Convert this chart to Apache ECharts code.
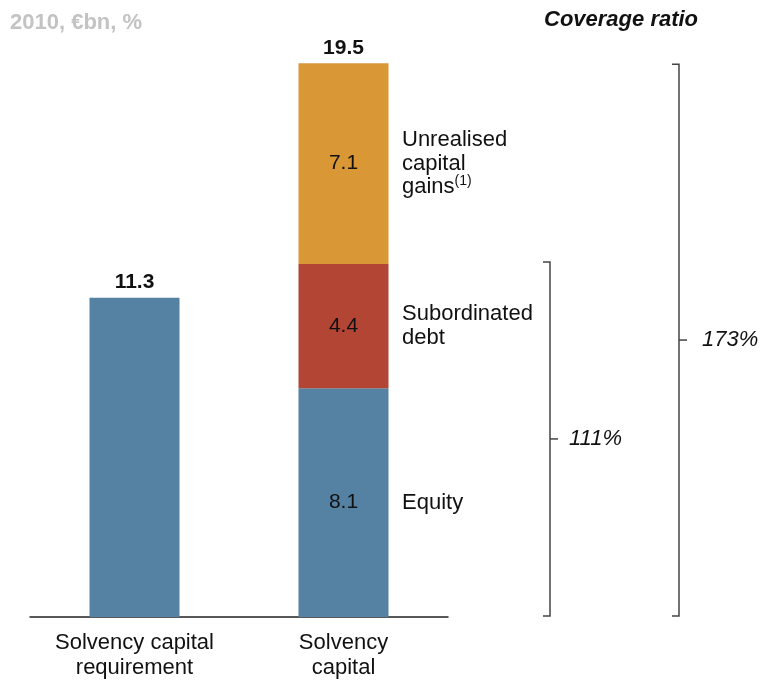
<!DOCTYPE html>
<html>
<head>
<meta charset="utf-8">
<script src="https://cdn.jsdelivr.net/npm/echarts@6/dist/echarts.min.js"></script>
<style>
html,body{margin:0;padding:0;background:#fff;}
#chart{width:761px;height:680px;}
</style>
</head>
<body>
<div id="chart"></div>
<script>
const categories = ['Solvency capital\nrequirement', 'Solvency\ncapital'];
const requirement = [11.3, '-'];
const equity = ['-', 8.1];
const subDebt = ['-', 4.4];
const unrealised = ['-', 7.1];
const stackTotals = [11.3, 19.5];
const segmentLabels = ['Equity', 'Subordinated\ndebt', 'Unrealised\ncapital\ngains{sup|(1)}'];
const coverageLabels = ['111%', '173%'];

const FONT = 'Liberation Sans, Arial, sans-serif';
const BLUE = '#5581A3', RED = '#B24534', ORANGE = '#DA9735';

const chart = echarts.init(document.getElementById('chart'));
const inLabel = {show: true, position: 'inside', color: '#111', fontSize: 21, fontFamily: FONT,
  formatter: p => p.value.toFixed(1)};

chart.setOption({
  animation: false,
  textStyle: {fontFamily: FONT},
  grid: {left: 30, right: 313, top: 52, bottom: 63},
  xAxis: {
    type: 'category', data: categories,
    axisLine: {lineStyle: {color: '#222', width: 1.5}},
    axisTick: {show: false},
    axisLabel: {color: '#111', fontSize: 22, lineHeight: 25, margin: 13, fontFamily: FONT}
  },
  yAxis: {type: 'value', min: 0, max: 20, show: false, splitLine: {show: false}},
  series: [
    {type: 'bar', name: 'Requirement', stack: 't', barWidth: 90, data: requirement,
      itemStyle: {color: BLUE},
      label: {show: true, position: 'top', distance: 5, color: '#111', fontSize: 21, fontWeight: 'bold',
        fontFamily: FONT, formatter: p => stackTotals[p.dataIndex].toFixed(1)}},
    {type: 'bar', name: 'Equity', stack: 't', barWidth: 90, data: equity, itemStyle: {color: BLUE}, label: inLabel},
    {type: 'bar', name: 'Subordinated debt', stack: 't', barWidth: 90, data: subDebt, itemStyle: {color: RED}, label: inLabel},
    {type: 'bar', name: 'Unrealised capital gains', stack: 't', barWidth: 90, data: unrealised, itemStyle: {color: ORANGE}, label: inLabel},
    {type: 'bar', name: 'Total', stack: 't', barWidth: 90, data: ['-', 0], itemStyle: {color: 'transparent'},
      label: {show: true, position: 'top', distance: 5, color: '#111', fontSize: 21, fontWeight: 'bold',
        fontFamily: FONT, formatter: p => stackTotals[p.dataIndex].toFixed(1)}}
  ]
});

// annotations positioned from data through the chart's own scales
const segVals = [equity[1], subDebt[1], unrealised[1]];
let cum = 0;
const graphics = [];
segVals.forEach((v, i) => {
  const mid = cum + v / 2;
  cum += v;
  const y = chart.convertToPixel({gridIndex: 0}, [1, mid])[1];
  graphics.push({
    type: 'text', x: 402, y: y,
    style: {
      text: segmentLabels[i], font: '22px ' + FONT, fill: '#111', lineHeight: 23.5,
      verticalAlign: 'middle', align: 'left',
      rich: {sup: {fontSize: 14, fontFamily: FONT, fill: '#111', padding: [0, 0, 12, 0]}}
    }
  });
});

function bracket(xLine, topVal, label, labelX) {
  const yTop = chart.convertToPixel({gridIndex: 0}, [1, topVal])[1] - 2;
  const yBot = chart.convertToPixel({gridIndex: 0}, [1, 0])[1] - 1;
  const yMid = (yTop + yBot) / 2;
  const ls = {stroke: '#444', lineWidth: 1.5};
  graphics.push({type: 'polyline', shape: {points: [[xLine - 7, yTop], [xLine, yTop], [xLine, yBot], [xLine - 7, yBot]]}, style: Object.assign({fill: 'none'}, ls)});
  graphics.push({type: 'line', shape: {x1: xLine, y1: yMid, x2: xLine + 8, y2: yMid}, style: ls});
  graphics.push({type: 'text', x: labelX, y: yMid, style: {text: label, font: 'italic 22px ' + FONT, fill: '#111', verticalAlign: 'middle'}});
}
bracket(550, equity[1] + subDebt[1], coverageLabels[0], 569);
bracket(679, stackTotals[1], coverageLabels[1], 702);

graphics.push({type: 'text', x: 10, y: 23, style: {text: '2010, €bn, %', font: 'bold 22px ' + FONT, fill: '#C3C3C3', verticalAlign: 'middle'}});
graphics.push({type: 'text', x: 544, y: 20, style: {text: 'Coverage ratio', font: 'italic bold 22px ' + FONT, fill: '#111', verticalAlign: 'middle'}});

chart.setOption({graphic: graphics});
</script>
</body>
</html>
